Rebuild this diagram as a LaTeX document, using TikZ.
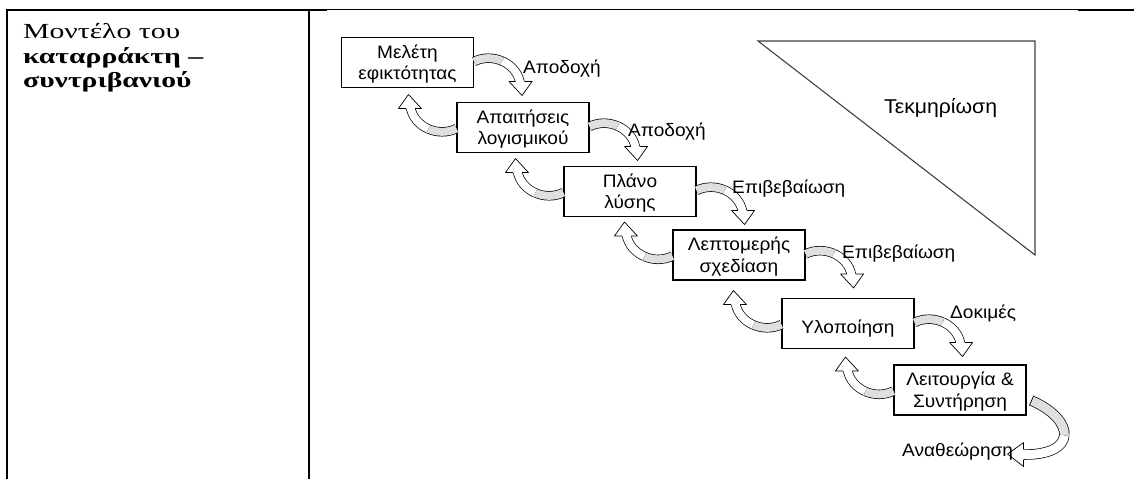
\documentclass[tikz,border=0pt]{standalone}
\usepackage{fontspec}
\setmainfont{Liberation Serif}[FakeStretch=1.38]
\newfontfamily\diagfont{Liberation Sans}[FakeStretch=1.06]
\newcommand{\twoline}[2]{\begin{tabular}[t]{@{}c@{}}#1\\#2\end{tabular}}
\begin{document}
\begin{tikzpicture}[x=1pt,y=-1pt,
  box/.style={draw=black, line width=1.1pt, minimum width=132pt, minimum height=50pt, inner sep=0pt, text height=13pt, text depth=21.5pt, font=\diagfont\fontsize{18}{21.6}\selectfont},
  box1l/.style={box, text height=19pt, text depth=0pt},
  lbl/.style={inner sep=0pt, anchor=base west, font=\diagfont\fontsize{18}{21.6}\selectfont},
  lefttxt/.style={inner sep=0pt, anchor=base west, font=\fontsize{21.5}{24}\selectfont},
  arrowband/.style={line width=0.7pt, draw=black, double distance=8pt},
  arrowline/.style={line width=0.7pt, draw=black, line join=round},
  fwdarrow/.pic={
    \draw[arrowband, double=gray!25] (0,-1) .. controls (9,-5.5) and (19.5,-5.25) .. (28.25,-1.375);
    \draw[arrowband, double=white] (28.25,-1.375) .. controls (37,2.5) and (44,10) .. (46,20);
    \fill[white] (35,19) -- (58,19) -- (48,33) -- cycle;
    \draw[arrowline] (41.4,19) -- (35,19) -- (48,33) -- (58,19) -- (50.6,19);
  },
  revarrow/.pic={
    \draw[arrowband, double=gray!25, double distance=9pt] (5,-15) .. controls (27.5,-5) and (38.75,8.75) .. (37.75,19.875);
    \draw[arrowband, double=white, double distance=9pt] (37.75,19.875) .. controls (36.75,31) and (23.5,39.5) .. (-4,39);
    \draw[arrowline] (2.9,-10.2) -- (7.1,-19.8);
    \fill[white] (-3,27) -- (-19,38.5) -- (-3,51) -- cycle;
    \draw[arrowline] (-3,33.8) -- (-3,27) -- (-19,38.5) -- (-3,51) -- (-3,44.2);
  }]
\useasboundingbox (0,0) rectangle (1134,479);
% table rules
\draw[line width=2pt] (6,10) -- (327,10);
\draw[line width=1.1pt] (327,9.7) -- (1078,9.7);
\draw[line width=2pt] (1078,10) -- (1134,10);
\draw[line width=2.2pt] (7,9) -- (7,479);
\draw[line width=2.5pt] (309,9) -- (309,479);
% left column text
\node[lefttxt] (t1) at (23,38.3) {Μοντέλο του};
\node[lefttxt] (t2) at (23,63) {\textbf{καταρράκτη –}};
\node[lefttxt] (t3) at (23,87.5) {\textbf{συντριβανιού}};
% triangle
\draw[line width=1.1pt, draw=black!75] (758,41) -- (1035,41) -- (1035,255) -- cycle;
\node[lbl, font=\diagfont\fontsize{20}{24}\selectfont] (tk) at (884,113) {Τεκμηρίωση};
% boxes
\node[box] (b1) at (407.5,62.5) {\twoline{Μελέτη}{εφικτότητας}};
\node[box] (b2) at (523,127.5) {\twoline{Απαιτήσεις}{λογισμικού}};
\node[box] (b3) at (630,191.5) {\twoline{Πλάνο}{λύσης}};
\node[box] (b4) at (739,255) {\twoline{Λεπτομερής}{σχεδίαση}};
\node[box1l] (b5) at (848,323.5) {Υλοποίηση};
\node[box] (b6) at (960,390) {\twoline{Λειτουργία \&}{Συντήρηση}};
% arrows
\pic at (b1.east) {fwdarrow};
\pic[rotate=180] at (b2.west) {fwdarrow};
\pic at (b2.east) {fwdarrow};
\pic[rotate=180] at (b3.west) {fwdarrow};
\pic at (b3.east) {fwdarrow};
\pic[rotate=180] at (b4.west) {fwdarrow};
\pic at (b4.east) {fwdarrow};
\pic[rotate=180] at (b5.west) {fwdarrow};
\pic at (b5.east) {fwdarrow};
\pic[rotate=180] at (b6.west) {fwdarrow};
\pic at (b6.south east) {revarrow};
% labels
\node[lbl] (a1) at (523,73) {Αποδοχή};
\node[lbl] (a2) at (628,136) {Αποδοχή};
\node[lbl] (e1) at (732,193) {Επιβεβαίωση};
\node[lbl] (e2) at (842,258) {Επιβεβαίωση};
\node[lbl] (d1) at (950,318) {Δοκιμές};
\node[lbl] (r1) at (902,456) {Αναθεώρηση};
\end{tikzpicture}
\end{document}
